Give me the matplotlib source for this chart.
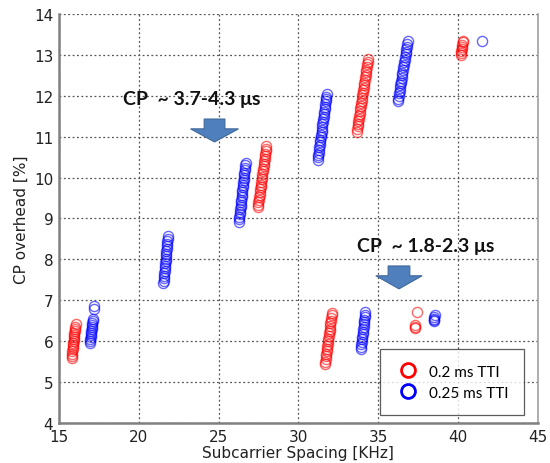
import matplotlib
matplotlib.use("Agg")
import matplotlib.pyplot as plt
from matplotlib.patches import Polygon
from matplotlib.lines import Line2D

# ---------------- data ----------------
# 0.2 ms TTI (red)
red_c1_x = [15.80,15.82,15.83,15.85,15.86,15.88,15.89,15.91,15.92,15.94,15.95,15.97,15.98,16.00,16.01,16.03,16.05]
red_c1_y = [5.60,5.65,5.70,5.75,5.80,5.85,5.90,5.95,6.00,6.05,6.10,6.15,6.20,6.25,6.30,6.36,6.42]
red_c2_x = [27.46,27.48,27.50,27.53,27.55,27.57,27.60,27.62,27.64,27.66,27.69,27.71,27.73,27.75,27.78,27.80,27.82,27.84,27.87,27.89,27.91,27.93,27.95,27.97,28.00]
red_c2_y = [9.28,9.34,9.40,9.46,9.52,9.58,9.65,9.71,9.77,9.83,9.90,9.96,10.02,10.08,10.15,10.21,10.27,10.33,10.40,10.46,10.52,10.58,10.64,10.70,10.77]
red_c3_x = [33.66,33.68,33.71,33.73,33.76,33.78,33.81,33.83,33.86,33.88,33.91,33.93,33.96,33.98,34.01,34.03,34.06,34.08,34.11,34.13,34.16,34.18,34.21,34.23,34.26,34.28,34.31,34.33,34.35]
red_c3_y = [11.12,11.18,11.25,11.31,11.37,11.44,11.50,11.56,11.63,11.69,11.75,11.82,11.88,11.94,12.01,12.07,12.13,12.20,12.26,12.32,12.39,12.45,12.51,12.58,12.64,12.70,12.77,12.83,12.90]
red_c4_x = [40.17,40.19,40.21,40.23,40.25,40.27,40.29,40.30]
red_c4_y = [13.00,13.05,13.10,13.15,13.20,13.25,13.30,13.34]
red_c5_x = [31.66,31.68,31.70,31.73,31.75,31.77,31.79,31.81,31.84,31.86,31.88,31.90,31.92,31.95,31.97,31.99,32.01,32.03,32.06,32.08,32.10]
red_c5_y = [5.44,5.50,5.56,5.63,5.69,5.75,5.81,5.88,5.94,6.00,6.06,6.13,6.19,6.25,6.31,6.38,6.44,6.50,6.56,6.63,6.69]
red_c6_x = [37.42,37.30,37.30,37.28]
red_c6_y = [6.71,6.40,6.36,6.33]

# 0.25 ms TTI (blue)
blue_c1_x = [16.95,16.96,16.98,16.99,17.01,17.02,17.04,17.05,17.07,17.08,17.10,17.11,17.13,17.18,17.20]
blue_c1_y = [5.95,6.00,6.05,6.10,6.15,6.20,6.25,6.30,6.35,6.40,6.45,6.50,6.55,6.80,6.86]
blue_c2_x = [21.55,21.56,21.58,21.59,21.61,21.62,21.64,21.65,21.67,21.68,21.70,21.71,21.73,21.74,21.76,21.77,21.79,21.80,21.82,21.84]
blue_c2_y = [7.42,7.48,7.54,7.60,7.66,7.72,7.78,7.84,7.90,7.96,8.02,8.08,8.14,8.20,8.26,8.32,8.38,8.44,8.50,8.57]
blue_c3_x = [26.27,26.29,26.31,26.32,26.34,26.36,26.38,26.39,26.41,26.43,26.45,26.46,26.48,26.50,26.52,26.53,26.55,26.57,26.59,26.60,26.62,26.64,26.66,26.68,26.70]
blue_c3_y = [8.92,8.98,9.04,9.10,9.16,9.22,9.28,9.34,9.40,9.46,9.52,9.58,9.64,9.70,9.76,9.82,9.88,9.94,10.00,10.06,10.12,10.18,10.24,10.30,10.36]
blue_c4_x = [31.20,31.22,31.24,31.27,31.29,31.31,31.33,31.36,31.38,31.40,31.42,31.45,31.47,31.49,31.51,31.54,31.56,31.58,31.60,31.63,31.65,31.67,31.69,31.72,31.74,31.76,31.78]
blue_c4_y = [10.43,10.49,10.55,10.61,10.67,10.74,10.80,10.86,10.92,10.98,11.05,11.11,11.17,11.23,11.30,11.36,11.42,11.48,11.55,11.61,11.67,11.73,11.80,11.86,11.92,11.98,12.04]
blue_c5_x = [36.23,36.26,36.28,36.31,36.34,36.36,36.39,36.42,36.44,36.47,36.50,36.52,36.55,36.58,36.60,36.63,36.66,36.68,36.71,36.74,36.76,36.79,36.82,36.85]
blue_c5_y = [11.87,11.93,11.99,12.06,12.12,12.18,12.25,12.31,12.37,12.44,12.50,12.56,12.63,12.69,12.75,12.82,12.88,12.94,13.01,13.07,13.13,13.20,13.27,13.34]
blue_c6_x = [41.50]
blue_c6_y = [13.34]
blue_c7_x = [33.90,33.92,33.94,33.96,33.98,34.00,34.02,34.04,34.06,34.08,34.10,34.12,34.14,34.16,34.18,34.20]
blue_c7_y = [5.81,5.87,5.93,5.99,6.05,6.11,6.17,6.23,6.29,6.35,6.41,6.47,6.53,6.59,6.65,6.71]
blue_c8_x = [38.55,38.52,38.52,38.50,38.50]
blue_c8_y = [6.65,6.60,6.55,6.52,6.50]

red_x = red_c1_x + red_c2_x + red_c3_x + red_c4_x + red_c5_x + red_c6_x
red_y = red_c1_y + red_c2_y + red_c3_y + red_c4_y + red_c5_y + red_c6_y
blue_x = blue_c1_x + blue_c2_x + blue_c3_x + blue_c4_x + blue_c5_x + blue_c6_x + blue_c7_x + blue_c8_x
blue_y = blue_c1_y + blue_c2_y + blue_c3_y + blue_c4_y + blue_c5_y + blue_c6_y + blue_c7_y + blue_c8_y

series_labels = ["0.2 ms TTI", "0.25 ms TTI"]
annot_texts = ["CP  ~ 3.7-4.3 μs", "CP  ~ 1.8-2.3 μs"]
x_ticks = [15, 20, 25, 30, 35, 40, 45]
y_ticks = [4, 5, 6, 7, 8, 9, 10, 11, 12, 13, 14]

# ---------------- figure ----------------
fig = plt.figure(figsize=(5.5, 4.64), dpi=100)
ax = fig.add_axes([0.107, 0.086, 0.871, 0.882])

ax.plot(red_x, red_y, linestyle="none", marker="o", markersize=7.3,
        markerfacecolor="none", markeredgecolor="#ff0000", markeredgewidth=1.0, alpha=0.6)
ax.plot(blue_x, blue_y, linestyle="none", marker="o", markersize=7.3,
        markerfacecolor="none", markeredgecolor="#0000ff", markeredgewidth=1.0, alpha=0.6)

ax.set_xlim(15, 45)
ax.set_ylim(4, 14)
ax.set_xticks(x_ticks)
ax.set_yticks(y_ticks)
ax.tick_params(axis="both", length=0, labelsize=11, pad=4, colors="#222222")
ax.grid(True, linestyle=(0, (1.5, 2)), color="#555555", linewidth=0.9)
ax.set_axisbelow(True)

for s in ["left", "bottom"]:
    ax.spines[s].set_color("#808080")
    ax.spines[s].set_linewidth(1.8)
ax.spines["right"].set_color("#a0a0a0")
ax.spines["right"].set_linewidth(1.2)
ax.spines["top"].set_visible(False)

ax.set_xlabel("Subcarrier Spacing [KHz]", fontsize=11, color="#222222", labelpad=1)
ax.set_ylabel("CP overhead [%]", fontsize=11, color="#222222", labelpad=4)

# arrows (block arrows)
arrow_col = "#4f7fbc"
def block_arrow(xc, sw, hw, ytop, ybase, ytip):
    pts = [(xc - sw, ytop), (xc + sw, ytop), (xc + sw, ybase), (xc + hw, ybase),
           (xc, ytip), (xc - hw, ybase), (xc - sw, ybase)]
    ax.add_patch(Polygon(pts, closed=True, facecolor=arrow_col, edgecolor="#41699c",
                         linewidth=0.8, zorder=5))

block_arrow(24.75, 0.65, 1.5, 11.43, 11.19, 10.87)
block_arrow(36.3, 0.68, 1.45, 7.84, 7.60, 7.28)

ax.text(19.0, 11.92, annot_texts[0], fontsize=14, fontweight="bold",
        family=["Lato", "DejaVu Sans"], va="center", ha="left", color="#111111")
ax.text(33.7, 8.33, annot_texts[1], fontsize=14, fontweight="bold",
        family=["Lato", "DejaVu Sans"], va="center", ha="left", color="#111111")

handles = [Line2D([], [], linestyle="none", marker="o", markersize=10, markerfacecolor="none",
                  markeredgecolor="#ff0000", markeredgewidth=2),
           Line2D([], [], linestyle="none", marker="o", markersize=10, markerfacecolor="none",
                  markeredgecolor="#0000ff", markeredgewidth=2)]
leg = ax.legend(handles, series_labels, loc="lower right", bbox_to_anchor=(0.971, 0.02),
                frameon=True, fancybox=False, edgecolor="#333333",
                prop={"family": "Lato", "size": 11},
                borderpad=1.0, handletextpad=0.6, labelspacing=0.45, borderaxespad=0,
                handlelength=1.6)
leg.get_frame().set_linewidth(0.9)

fig.savefig("out.png", dpi=100)
